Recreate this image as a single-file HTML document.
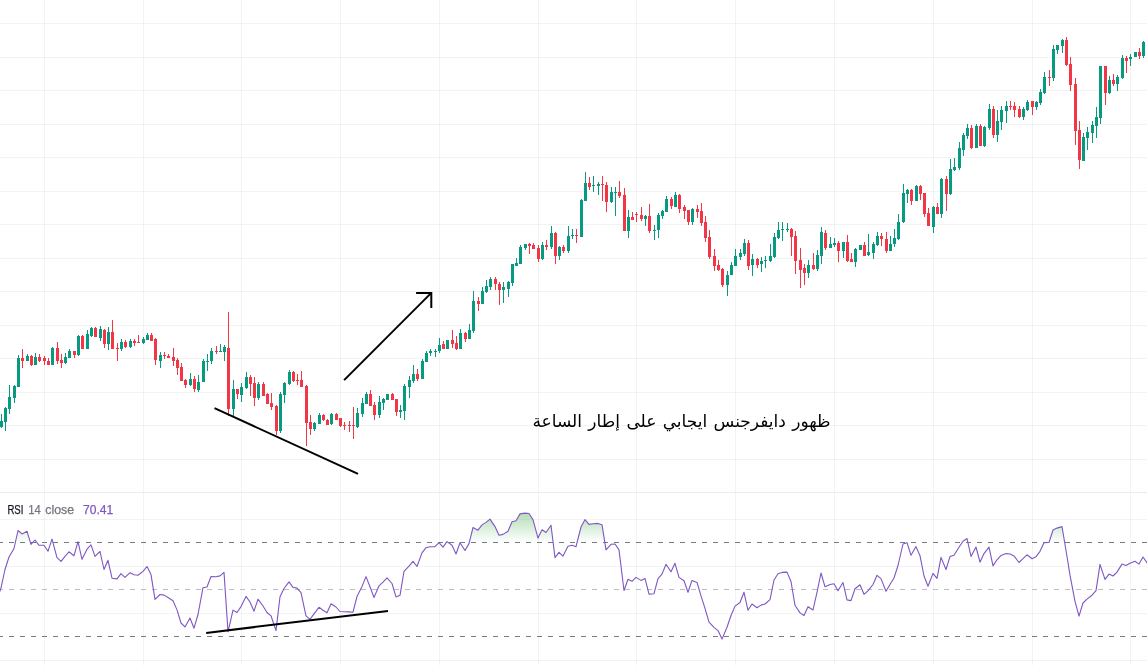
<!DOCTYPE html>
<html lang="en"><head><meta charset="utf-8"><title>RSI divergence chart</title>
<style>html,body{margin:0;padding:0;background:#fff;overflow:hidden}body{width:1147px;height:665px;font-family:"Liberation Sans","DejaVu Sans",sans-serif}svg{display:block}</style></head><body>
<svg width="1147" height="665" viewBox="0 0 1147 665">
<defs><linearGradient id="ob" gradientUnits="userSpaceOnUse" x1="0" y1="472.2" x2="0" y2="542.5"><stop offset="0" stop-color="#4CAF50" stop-opacity="1"/><stop offset="1" stop-color="#4CAF50" stop-opacity="0"/></linearGradient>
<linearGradient id="os" gradientUnits="userSpaceOnUse" x1="0" y1="636.3" x2="0" y2="706.5"><stop offset="0" stop-color="#F23645" stop-opacity="0"/><stop offset="1" stop-color="#F23645" stop-opacity="1"/></linearGradient>
<clipPath id="cob"><rect x="0" y="493" width="1147" height="49.5"/></clipPath><clipPath id="cos"><rect x="0" y="636.3" width="1147" height="29"/></clipPath><filter id="idf" x="0" y="0" width="1" height="1" filterUnits="objectBoundingBox" color-interpolation-filters="sRGB"><feOffset dx="0" dy="0"/></filter><filter id="idf2" x="-0.05" y="-0.5" width="1.1" height="2" color-interpolation-filters="sRGB"><feOffset dx="0" dy="0"/></filter></defs>
<rect width="1147" height="665" fill="#fff"/>
<g shape-rendering="crispEdges" fill="rgb(42,46,57)" fill-opacity="0.06">
<rect x="44" y="0" width="1" height="665"/>
<rect x="143" y="0" width="1" height="665"/>
<rect x="241" y="0" width="1" height="665"/>
<rect x="340" y="0" width="1" height="665"/>
<rect x="439" y="0" width="1" height="665"/>
<rect x="538" y="0" width="1" height="665"/>
<rect x="636" y="0" width="1" height="665"/>
<rect x="735" y="0" width="1" height="665"/>
<rect x="834" y="0" width="1" height="665"/>
<rect x="933" y="0" width="1" height="665"/>
<rect x="1032" y="0" width="1" height="665"/>
<rect x="1130" y="0" width="1" height="665"/>
<rect x="0" y="23" width="1147" height="1"/>
<rect x="0" y="57" width="1147" height="1"/>
<rect x="0" y="90" width="1147" height="1"/>
<rect x="0" y="124" width="1147" height="1"/>
<rect x="0" y="157" width="1147" height="1"/>
<rect x="0" y="191" width="1147" height="1"/>
<rect x="0" y="224" width="1147" height="1"/>
<rect x="0" y="258" width="1147" height="1"/>
<rect x="0" y="291" width="1147" height="1"/>
<rect x="0" y="325" width="1147" height="1"/>
<rect x="0" y="358" width="1147" height="1"/>
<rect x="0" y="392" width="1147" height="1"/>
<rect x="0" y="425" width="1147" height="1"/>
<rect x="0" y="459" width="1147" height="1"/>
<rect x="0" y="519" width="1147" height="1"/>
<rect x="0" y="566" width="1147" height="1"/>
<rect x="0" y="613" width="1147" height="1"/>
<rect x="0" y="660" width="1147" height="1"/>
</g>
<rect x="0" y="492" width="1147" height="1" fill="#ebebec" shape-rendering="crispEdges"/>
<g shape-rendering="crispEdges" fill="#089981">
<rect x="1" y="414" width="1" height="14"/>
<rect x="0" y="421" width="3" height="6"/>
<rect x="5" y="407" width="1" height="24"/>
<rect x="4" y="408" width="3" height="14"/>
<rect x="9" y="385" width="1" height="29"/>
<rect x="8" y="397" width="3" height="12"/>
<rect x="14" y="385" width="1" height="18"/>
<rect x="13" y="386" width="3" height="12"/>
<rect x="18" y="355" width="1" height="32"/>
<rect x="17" y="358" width="3" height="29"/>
<rect x="27" y="354" width="1" height="7"/>
<rect x="26" y="356" width="3" height="5"/>
<rect x="35" y="353" width="1" height="12"/>
<rect x="34" y="357" width="3" height="8"/>
<rect x="52" y="347" width="1" height="18"/>
<rect x="51" y="348" width="3" height="17"/>
<rect x="65" y="353" width="1" height="11"/>
<rect x="64" y="357" width="3" height="6"/>
<rect x="69" y="349" width="1" height="9"/>
<rect x="68" y="351" width="3" height="7"/>
<rect x="78" y="335" width="1" height="21"/>
<rect x="77" y="336" width="3" height="19"/>
<rect x="87" y="330" width="1" height="19"/>
<rect x="86" y="334" width="3" height="15"/>
<rect x="91" y="327" width="1" height="10"/>
<rect x="90" y="328" width="3" height="8"/>
<rect x="100" y="326" width="1" height="15"/>
<rect x="99" y="329" width="3" height="9"/>
<rect x="108" y="327" width="1" height="23"/>
<rect x="107" y="332" width="3" height="12"/>
<rect x="121" y="339" width="1" height="12"/>
<rect x="120" y="342" width="3" height="7"/>
<rect x="130" y="339" width="1" height="9"/>
<rect x="129" y="341" width="3" height="6"/>
<rect x="143" y="337" width="1" height="7"/>
<rect x="142" y="339" width="3" height="4"/>
<rect x="147" y="333" width="1" height="7"/>
<rect x="146" y="335" width="3" height="5"/>
<rect x="160" y="352" width="1" height="16"/>
<rect x="159" y="355" width="3" height="6"/>
<rect x="190" y="373" width="1" height="13"/>
<rect x="189" y="379" width="3" height="6"/>
<rect x="198" y="375" width="1" height="17"/>
<rect x="197" y="382" width="3" height="8"/>
<rect x="203" y="359" width="1" height="23"/>
<rect x="202" y="361" width="3" height="21"/>
<rect x="207" y="354" width="1" height="17"/>
<rect x="206" y="361" width="3" height="1"/>
<rect x="211" y="348" width="1" height="16"/>
<rect x="210" y="351" width="3" height="10"/>
<rect x="220" y="344" width="1" height="8"/>
<rect x="219" y="351" width="3" height="1"/>
<rect x="224" y="345" width="1" height="16"/>
<rect x="223" y="347" width="3" height="5"/>
<rect x="233" y="380" width="1" height="36"/>
<rect x="232" y="389" width="3" height="20"/>
<rect x="241" y="383" width="1" height="19"/>
<rect x="240" y="387" width="3" height="8"/>
<rect x="246" y="372" width="1" height="17"/>
<rect x="245" y="377" width="3" height="11"/>
<rect x="258" y="382" width="1" height="18"/>
<rect x="257" y="384" width="3" height="14"/>
<rect x="280" y="392" width="1" height="41"/>
<rect x="279" y="394" width="3" height="37"/>
<rect x="284" y="382" width="1" height="21"/>
<rect x="283" y="383" width="3" height="12"/>
<rect x="289" y="370" width="1" height="15"/>
<rect x="288" y="372" width="3" height="12"/>
<rect x="314" y="422" width="1" height="9"/>
<rect x="313" y="423" width="3" height="6"/>
<rect x="319" y="413" width="1" height="11"/>
<rect x="318" y="415" width="3" height="9"/>
<rect x="331" y="413" width="1" height="12"/>
<rect x="330" y="414" width="3" height="10"/>
<rect x="357" y="408" width="1" height="20"/>
<rect x="356" y="413" width="3" height="14"/>
<rect x="362" y="398" width="1" height="19"/>
<rect x="361" y="403" width="3" height="11"/>
<rect x="366" y="392" width="1" height="12"/>
<rect x="365" y="394" width="3" height="10"/>
<rect x="379" y="396" width="1" height="22"/>
<rect x="378" y="402" width="3" height="13"/>
<rect x="383" y="398" width="1" height="12"/>
<rect x="382" y="399" width="3" height="4"/>
<rect x="386" y="394" width="3" height="6"/>
<rect x="400" y="405" width="1" height="13"/>
<rect x="399" y="410" width="3" height="2"/>
<rect x="404" y="384" width="1" height="36"/>
<rect x="403" y="386" width="3" height="25"/>
<rect x="409" y="376" width="1" height="22"/>
<rect x="408" y="380" width="3" height="7"/>
<rect x="413" y="365" width="1" height="18"/>
<rect x="412" y="374" width="3" height="7"/>
<rect x="422" y="359" width="1" height="20"/>
<rect x="421" y="361" width="3" height="18"/>
<rect x="426" y="351" width="1" height="11"/>
<rect x="425" y="353" width="3" height="9"/>
<rect x="430" y="349" width="1" height="7"/>
<rect x="429" y="351" width="3" height="2"/>
<rect x="435" y="349" width="1" height="8"/>
<rect x="434" y="351" width="3" height="1"/>
<rect x="439" y="338" width="1" height="15"/>
<rect x="438" y="345" width="3" height="6"/>
<rect x="446" y="340" width="3" height="9"/>
<rect x="460" y="329" width="1" height="20"/>
<rect x="459" y="333" width="3" height="16"/>
<rect x="469" y="324" width="1" height="15"/>
<rect x="468" y="330" width="3" height="9"/>
<rect x="473" y="291" width="1" height="42"/>
<rect x="472" y="301" width="3" height="30"/>
<rect x="482" y="287" width="1" height="17"/>
<rect x="481" y="291" width="3" height="13"/>
<rect x="486" y="280" width="1" height="13"/>
<rect x="485" y="286" width="3" height="6"/>
<rect x="490" y="277" width="1" height="13"/>
<rect x="489" y="279" width="3" height="8"/>
<rect x="503" y="282" width="1" height="21"/>
<rect x="502" y="287" width="3" height="3"/>
<rect x="508" y="281" width="1" height="16"/>
<rect x="507" y="282" width="3" height="7"/>
<rect x="512" y="264" width="1" height="22"/>
<rect x="511" y="264" width="3" height="19"/>
<rect x="516" y="258" width="1" height="8"/>
<rect x="515" y="263" width="3" height="3"/>
<rect x="520" y="245" width="1" height="19"/>
<rect x="519" y="247" width="3" height="17"/>
<rect x="525" y="244" width="1" height="6"/>
<rect x="524" y="244" width="3" height="4"/>
<rect x="542" y="242" width="1" height="18"/>
<rect x="541" y="245" width="3" height="14"/>
<rect x="551" y="226" width="1" height="23"/>
<rect x="550" y="233" width="3" height="14"/>
<rect x="559" y="246" width="1" height="14"/>
<rect x="558" y="247" width="3" height="9"/>
<rect x="568" y="226" width="1" height="27"/>
<rect x="567" y="236" width="3" height="15"/>
<rect x="572" y="229" width="1" height="10"/>
<rect x="571" y="235" width="3" height="1"/>
<rect x="581" y="199" width="1" height="38"/>
<rect x="580" y="200" width="3" height="37"/>
<rect x="585" y="172" width="1" height="29"/>
<rect x="584" y="183" width="3" height="18"/>
<rect x="593" y="176" width="1" height="16"/>
<rect x="592" y="185" width="3" height="1"/>
<rect x="598" y="182" width="1" height="13"/>
<rect x="597" y="184" width="3" height="2"/>
<rect x="611" y="187" width="1" height="16"/>
<rect x="610" y="192" width="3" height="10"/>
<rect x="615" y="187" width="1" height="29"/>
<rect x="614" y="192" width="3" height="1"/>
<rect x="628" y="210" width="1" height="28"/>
<rect x="627" y="217" width="3" height="14"/>
<rect x="645" y="215" width="1" height="11"/>
<rect x="644" y="216" width="3" height="3"/>
<rect x="654" y="225" width="1" height="15"/>
<rect x="653" y="230" width="3" height="1"/>
<rect x="658" y="213" width="1" height="25"/>
<rect x="657" y="215" width="3" height="15"/>
<rect x="662" y="210" width="1" height="9"/>
<rect x="661" y="211" width="3" height="5"/>
<rect x="666" y="196" width="1" height="16"/>
<rect x="665" y="199" width="3" height="13"/>
<rect x="675" y="192" width="1" height="15"/>
<rect x="674" y="195" width="3" height="12"/>
<rect x="692" y="208" width="1" height="17"/>
<rect x="691" y="209" width="3" height="13"/>
<rect x="727" y="271" width="1" height="25"/>
<rect x="726" y="275" width="3" height="10"/>
<rect x="731" y="262" width="1" height="13"/>
<rect x="730" y="265" width="3" height="10"/>
<rect x="735" y="249" width="1" height="17"/>
<rect x="734" y="256" width="3" height="10"/>
<rect x="740" y="249" width="1" height="11"/>
<rect x="739" y="253" width="3" height="4"/>
<rect x="744" y="239" width="1" height="17"/>
<rect x="743" y="243" width="3" height="11"/>
<rect x="752" y="254" width="1" height="22"/>
<rect x="751" y="259" width="3" height="6"/>
<rect x="761" y="257" width="1" height="15"/>
<rect x="760" y="261" width="3" height="3"/>
<rect x="765" y="256" width="1" height="12"/>
<rect x="764" y="260" width="3" height="1"/>
<rect x="770" y="244" width="1" height="18"/>
<rect x="769" y="256" width="3" height="5"/>
<rect x="774" y="233" width="1" height="25"/>
<rect x="773" y="237" width="3" height="20"/>
<rect x="778" y="222" width="1" height="17"/>
<rect x="777" y="230" width="3" height="8"/>
<rect x="782" y="222" width="1" height="19"/>
<rect x="781" y="229" width="3" height="1"/>
<rect x="787" y="223" width="1" height="9"/>
<rect x="786" y="229" width="3" height="1"/>
<rect x="808" y="260" width="1" height="18"/>
<rect x="807" y="265" width="3" height="8"/>
<rect x="817" y="250" width="1" height="21"/>
<rect x="816" y="255" width="3" height="14"/>
<rect x="821" y="227" width="1" height="37"/>
<rect x="820" y="232" width="3" height="24"/>
<rect x="830" y="237" width="1" height="11"/>
<rect x="829" y="244" width="3" height="4"/>
<rect x="834" y="238" width="1" height="9"/>
<rect x="833" y="243" width="3" height="2"/>
<rect x="843" y="242" width="1" height="16"/>
<rect x="842" y="242" width="3" height="9"/>
<rect x="855" y="248" width="1" height="19"/>
<rect x="854" y="249" width="3" height="13"/>
<rect x="859" y="245" width="3" height="5"/>
<rect x="868" y="234" width="1" height="22"/>
<rect x="867" y="252" width="3" height="3"/>
<rect x="873" y="242" width="1" height="17"/>
<rect x="872" y="244" width="3" height="9"/>
<rect x="877" y="232" width="1" height="14"/>
<rect x="876" y="236" width="3" height="9"/>
<rect x="890" y="236" width="1" height="15"/>
<rect x="889" y="244" width="3" height="7"/>
<rect x="894" y="229" width="1" height="18"/>
<rect x="893" y="238" width="3" height="6"/>
<rect x="898" y="214" width="1" height="26"/>
<rect x="897" y="222" width="3" height="17"/>
<rect x="903" y="184" width="1" height="39"/>
<rect x="902" y="193" width="3" height="29"/>
<rect x="907" y="189" width="1" height="14"/>
<rect x="906" y="190" width="3" height="4"/>
<rect x="916" y="185" width="1" height="16"/>
<rect x="915" y="186" width="3" height="15"/>
<rect x="933" y="206" width="1" height="27"/>
<rect x="932" y="207" width="3" height="20"/>
<rect x="941" y="178" width="1" height="40"/>
<rect x="940" y="179" width="3" height="35"/>
<rect x="950" y="159" width="1" height="36"/>
<rect x="949" y="169" width="3" height="25"/>
<rect x="954" y="158" width="1" height="13"/>
<rect x="953" y="167" width="3" height="3"/>
<rect x="959" y="142" width="1" height="28"/>
<rect x="958" y="148" width="3" height="20"/>
<rect x="963" y="133" width="1" height="23"/>
<rect x="962" y="135" width="3" height="15"/>
<rect x="967" y="124" width="1" height="15"/>
<rect x="966" y="128" width="3" height="8"/>
<rect x="976" y="124" width="1" height="24"/>
<rect x="975" y="126" width="3" height="22"/>
<rect x="984" y="126" width="1" height="21"/>
<rect x="983" y="127" width="3" height="19"/>
<rect x="989" y="104" width="1" height="26"/>
<rect x="988" y="109" width="3" height="19"/>
<rect x="997" y="110" width="1" height="32"/>
<rect x="996" y="121" width="3" height="14"/>
<rect x="1001" y="106" width="1" height="24"/>
<rect x="1000" y="110" width="3" height="12"/>
<rect x="1006" y="101" width="1" height="22"/>
<rect x="1005" y="106" width="3" height="5"/>
<rect x="1023" y="107" width="1" height="13"/>
<rect x="1022" y="109" width="3" height="8"/>
<rect x="1027" y="100" width="1" height="11"/>
<rect x="1026" y="102" width="3" height="8"/>
<rect x="1036" y="101" width="1" height="9"/>
<rect x="1035" y="102" width="3" height="5"/>
<rect x="1040" y="89" width="1" height="16"/>
<rect x="1039" y="92" width="3" height="11"/>
<rect x="1044" y="72" width="1" height="22"/>
<rect x="1043" y="77" width="3" height="16"/>
<rect x="1053" y="45" width="1" height="36"/>
<rect x="1052" y="49" width="3" height="29"/>
<rect x="1057" y="45" width="1" height="9"/>
<rect x="1056" y="45" width="3" height="5"/>
<rect x="1062" y="39" width="1" height="14"/>
<rect x="1061" y="40" width="3" height="6"/>
<rect x="1083" y="133" width="1" height="28"/>
<rect x="1082" y="137" width="3" height="24"/>
<rect x="1087" y="127" width="1" height="23"/>
<rect x="1086" y="132" width="3" height="6"/>
<rect x="1092" y="121" width="1" height="22"/>
<rect x="1091" y="125" width="3" height="8"/>
<rect x="1096" y="107" width="1" height="31"/>
<rect x="1095" y="117" width="3" height="9"/>
<rect x="1100" y="66" width="1" height="58"/>
<rect x="1099" y="66" width="3" height="52"/>
<rect x="1109" y="76" width="1" height="18"/>
<rect x="1108" y="80" width="3" height="13"/>
<rect x="1117" y="75" width="1" height="16"/>
<rect x="1116" y="77" width="3" height="7"/>
<rect x="1122" y="55" width="1" height="24"/>
<rect x="1121" y="58" width="3" height="20"/>
<rect x="1130" y="54" width="1" height="12"/>
<rect x="1129" y="57" width="3" height="2"/>
<rect x="1134" y="52" width="3" height="5"/>
<rect x="1143" y="41" width="1" height="17"/>
<rect x="1142" y="42" width="3" height="14"/>
</g>
<g shape-rendering="crispEdges" fill="#F23645">
<rect x="22" y="349" width="1" height="19"/>
<rect x="21" y="358" width="3" height="3"/>
<rect x="31" y="355" width="1" height="11"/>
<rect x="30" y="356" width="3" height="9"/>
<rect x="39" y="354" width="1" height="8"/>
<rect x="38" y="357" width="3" height="4"/>
<rect x="44" y="356" width="1" height="9"/>
<rect x="43" y="358" width="3" height="3"/>
<rect x="48" y="358" width="1" height="7"/>
<rect x="47" y="361" width="3" height="4"/>
<rect x="57" y="342" width="1" height="22"/>
<rect x="56" y="348" width="3" height="13"/>
<rect x="61" y="354" width="1" height="14"/>
<rect x="60" y="360" width="3" height="3"/>
<rect x="74" y="351" width="1" height="7"/>
<rect x="73" y="351" width="3" height="4"/>
<rect x="82" y="335" width="1" height="14"/>
<rect x="81" y="336" width="3" height="13"/>
<rect x="95" y="327" width="1" height="10"/>
<rect x="94" y="328" width="3" height="9"/>
<rect x="104" y="329" width="1" height="19"/>
<rect x="103" y="330" width="3" height="14"/>
<rect x="112" y="320" width="1" height="29"/>
<rect x="111" y="332" width="3" height="17"/>
<rect x="117" y="343" width="1" height="18"/>
<rect x="116" y="348" width="3" height="1"/>
<rect x="125" y="340" width="1" height="8"/>
<rect x="124" y="342" width="3" height="5"/>
<rect x="134" y="339" width="1" height="7"/>
<rect x="133" y="341" width="3" height="2"/>
<rect x="138" y="335" width="1" height="8"/>
<rect x="137" y="342" width="3" height="1"/>
<rect x="151" y="333" width="1" height="8"/>
<rect x="150" y="335" width="3" height="6"/>
<rect x="155" y="338" width="1" height="27"/>
<rect x="154" y="339" width="3" height="21"/>
<rect x="164" y="352" width="1" height="7"/>
<rect x="163" y="355" width="3" height="1"/>
<rect x="168" y="354" width="1" height="4"/>
<rect x="167" y="356" width="3" height="2"/>
<rect x="173" y="348" width="1" height="18"/>
<rect x="172" y="357" width="3" height="4"/>
<rect x="177" y="358" width="1" height="17"/>
<rect x="176" y="360" width="3" height="8"/>
<rect x="181" y="363" width="1" height="18"/>
<rect x="180" y="367" width="3" height="14"/>
<rect x="185" y="379" width="1" height="9"/>
<rect x="184" y="380" width="3" height="5"/>
<rect x="194" y="376" width="1" height="16"/>
<rect x="193" y="379" width="3" height="10"/>
<rect x="216" y="346" width="1" height="8"/>
<rect x="215" y="351" width="3" height="1"/>
<rect x="228" y="312" width="1" height="104"/>
<rect x="227" y="348" width="3" height="61"/>
<rect x="237" y="389" width="1" height="10"/>
<rect x="236" y="389" width="3" height="5"/>
<rect x="250" y="375" width="1" height="21"/>
<rect x="249" y="377" width="3" height="7"/>
<rect x="254" y="377" width="1" height="29"/>
<rect x="253" y="383" width="3" height="15"/>
<rect x="263" y="382" width="1" height="14"/>
<rect x="262" y="384" width="3" height="12"/>
<rect x="267" y="393" width="1" height="11"/>
<rect x="266" y="394" width="3" height="10"/>
<rect x="271" y="393" width="1" height="17"/>
<rect x="270" y="403" width="3" height="4"/>
<rect x="276" y="405" width="1" height="30"/>
<rect x="275" y="406" width="3" height="25"/>
<rect x="293" y="371" width="1" height="11"/>
<rect x="292" y="372" width="3" height="9"/>
<rect x="297" y="374" width="1" height="11"/>
<rect x="296" y="380" width="3" height="1"/>
<rect x="301" y="371" width="1" height="16"/>
<rect x="300" y="380" width="3" height="7"/>
<rect x="306" y="385" width="1" height="61"/>
<rect x="305" y="386" width="3" height="37"/>
<rect x="310" y="415" width="1" height="20"/>
<rect x="309" y="422" width="3" height="7"/>
<rect x="323" y="414" width="1" height="7"/>
<rect x="322" y="415" width="3" height="5"/>
<rect x="327" y="419" width="1" height="6"/>
<rect x="326" y="420" width="3" height="5"/>
<rect x="336" y="413" width="1" height="7"/>
<rect x="335" y="414" width="3" height="6"/>
<rect x="340" y="418" width="1" height="9"/>
<rect x="339" y="418" width="3" height="8"/>
<rect x="344" y="422" width="1" height="8"/>
<rect x="343" y="425" width="3" height="1"/>
<rect x="349" y="421" width="1" height="11"/>
<rect x="348" y="425" width="3" height="1"/>
<rect x="353" y="407" width="1" height="32"/>
<rect x="352" y="425" width="3" height="1"/>
<rect x="370" y="390" width="1" height="16"/>
<rect x="369" y="394" width="3" height="12"/>
<rect x="374" y="402" width="1" height="18"/>
<rect x="373" y="405" width="3" height="10"/>
<rect x="392" y="393" width="1" height="7"/>
<rect x="391" y="394" width="3" height="6"/>
<rect x="396" y="399" width="1" height="17"/>
<rect x="395" y="399" width="3" height="13"/>
<rect x="417" y="369" width="1" height="12"/>
<rect x="416" y="374" width="3" height="5"/>
<rect x="443" y="341" width="1" height="8"/>
<rect x="442" y="344" width="3" height="5"/>
<rect x="452" y="330" width="1" height="18"/>
<rect x="451" y="340" width="3" height="4"/>
<rect x="456" y="336" width="1" height="14"/>
<rect x="455" y="343" width="3" height="6"/>
<rect x="465" y="332" width="1" height="10"/>
<rect x="464" y="333" width="3" height="6"/>
<rect x="478" y="297" width="1" height="14"/>
<rect x="477" y="301" width="3" height="3"/>
<rect x="495" y="277" width="1" height="13"/>
<rect x="494" y="279" width="3" height="5"/>
<rect x="499" y="282" width="1" height="23"/>
<rect x="498" y="284" width="3" height="6"/>
<rect x="529" y="243" width="1" height="11"/>
<rect x="528" y="244" width="3" height="2"/>
<rect x="533" y="243" width="1" height="6"/>
<rect x="532" y="245" width="3" height="4"/>
<rect x="538" y="245" width="1" height="17"/>
<rect x="537" y="248" width="3" height="11"/>
<rect x="546" y="240" width="1" height="10"/>
<rect x="545" y="245" width="3" height="2"/>
<rect x="555" y="232" width="1" height="32"/>
<rect x="554" y="233" width="3" height="23"/>
<rect x="563" y="245" width="1" height="8"/>
<rect x="562" y="247" width="3" height="4"/>
<rect x="576" y="229" width="1" height="14"/>
<rect x="575" y="235" width="3" height="1"/>
<rect x="589" y="177" width="1" height="13"/>
<rect x="588" y="183" width="3" height="4"/>
<rect x="602" y="176" width="1" height="25"/>
<rect x="601" y="184" width="3" height="1"/>
<rect x="606" y="182" width="1" height="30"/>
<rect x="605" y="185" width="3" height="17"/>
<rect x="619" y="181" width="1" height="17"/>
<rect x="618" y="192" width="3" height="4"/>
<rect x="624" y="188" width="1" height="43"/>
<rect x="623" y="195" width="3" height="36"/>
<rect x="632" y="212" width="1" height="8"/>
<rect x="631" y="217" width="3" height="3"/>
<rect x="636" y="212" width="1" height="10"/>
<rect x="635" y="214" width="3" height="1"/>
<rect x="641" y="207" width="1" height="14"/>
<rect x="640" y="215" width="3" height="4"/>
<rect x="649" y="204" width="1" height="29"/>
<rect x="648" y="216" width="3" height="15"/>
<rect x="671" y="197" width="1" height="12"/>
<rect x="670" y="199" width="3" height="7"/>
<rect x="679" y="194" width="1" height="19"/>
<rect x="678" y="195" width="3" height="14"/>
<rect x="684" y="205" width="1" height="14"/>
<rect x="683" y="207" width="3" height="4"/>
<rect x="688" y="210" width="1" height="15"/>
<rect x="687" y="210" width="3" height="12"/>
<rect x="697" y="205" width="1" height="13"/>
<rect x="696" y="209" width="3" height="3"/>
<rect x="701" y="203" width="1" height="23"/>
<rect x="700" y="211" width="3" height="12"/>
<rect x="705" y="216" width="1" height="26"/>
<rect x="704" y="222" width="3" height="16"/>
<rect x="709" y="230" width="1" height="29"/>
<rect x="708" y="237" width="3" height="20"/>
<rect x="714" y="249" width="1" height="22"/>
<rect x="713" y="256" width="3" height="10"/>
<rect x="718" y="260" width="1" height="11"/>
<rect x="717" y="265" width="3" height="5"/>
<rect x="722" y="268" width="1" height="19"/>
<rect x="721" y="269" width="3" height="16"/>
<rect x="748" y="240" width="1" height="30"/>
<rect x="747" y="243" width="3" height="23"/>
<rect x="757" y="258" width="1" height="10"/>
<rect x="756" y="259" width="3" height="6"/>
<rect x="791" y="228" width="1" height="28"/>
<rect x="790" y="229" width="3" height="8"/>
<rect x="795" y="231" width="1" height="43"/>
<rect x="794" y="236" width="3" height="25"/>
<rect x="800" y="248" width="1" height="40"/>
<rect x="799" y="260" width="3" height="10"/>
<rect x="804" y="264" width="1" height="21"/>
<rect x="803" y="268" width="3" height="5"/>
<rect x="813" y="253" width="1" height="17"/>
<rect x="812" y="265" width="3" height="4"/>
<rect x="825" y="230" width="1" height="20"/>
<rect x="824" y="233" width="3" height="15"/>
<rect x="838" y="241" width="1" height="21"/>
<rect x="837" y="243" width="3" height="8"/>
<rect x="847" y="235" width="1" height="27"/>
<rect x="846" y="242" width="3" height="19"/>
<rect x="851" y="253" width="1" height="9"/>
<rect x="850" y="259" width="3" height="3"/>
<rect x="864" y="242" width="1" height="14"/>
<rect x="863" y="245" width="3" height="11"/>
<rect x="881" y="233" width="1" height="13"/>
<rect x="880" y="236" width="3" height="3"/>
<rect x="886" y="232" width="1" height="21"/>
<rect x="885" y="239" width="3" height="12"/>
<rect x="911" y="189" width="1" height="16"/>
<rect x="910" y="190" width="3" height="11"/>
<rect x="920" y="185" width="1" height="15"/>
<rect x="919" y="186" width="3" height="8"/>
<rect x="924" y="193" width="1" height="24"/>
<rect x="923" y="193" width="3" height="21"/>
<rect x="928" y="208" width="1" height="18"/>
<rect x="927" y="213" width="3" height="13"/>
<rect x="937" y="203" width="1" height="11"/>
<rect x="936" y="207" width="3" height="7"/>
<rect x="946" y="176" width="1" height="35"/>
<rect x="945" y="179" width="3" height="15"/>
<rect x="971" y="125" width="1" height="24"/>
<rect x="970" y="128" width="3" height="20"/>
<rect x="980" y="124" width="1" height="22"/>
<rect x="979" y="126" width="3" height="20"/>
<rect x="993" y="106" width="1" height="32"/>
<rect x="992" y="109" width="3" height="26"/>
<rect x="1010" y="101" width="1" height="9"/>
<rect x="1009" y="106" width="3" height="1"/>
<rect x="1014" y="102" width="1" height="15"/>
<rect x="1013" y="106" width="3" height="4"/>
<rect x="1019" y="106" width="1" height="12"/>
<rect x="1018" y="109" width="3" height="8"/>
<rect x="1032" y="101" width="1" height="14"/>
<rect x="1031" y="101" width="3" height="6"/>
<rect x="1049" y="70" width="1" height="16"/>
<rect x="1048" y="77" width="3" height="1"/>
<rect x="1066" y="37" width="1" height="29"/>
<rect x="1065" y="40" width="3" height="25"/>
<rect x="1070" y="57" width="1" height="34"/>
<rect x="1069" y="64" width="3" height="21"/>
<rect x="1075" y="78" width="1" height="67"/>
<rect x="1074" y="84" width="3" height="47"/>
<rect x="1079" y="121" width="1" height="48"/>
<rect x="1078" y="130" width="3" height="30"/>
<rect x="1105" y="66" width="1" height="39"/>
<rect x="1104" y="66" width="3" height="27"/>
<rect x="1113" y="74" width="1" height="12"/>
<rect x="1112" y="80" width="3" height="4"/>
<rect x="1126" y="56" width="1" height="17"/>
<rect x="1125" y="58" width="3" height="3"/>
<rect x="1139" y="48" width="1" height="11"/>
<rect x="1138" y="52" width="3" height="4"/>
</g>
<polygon clip-path="url(#cob)" fill="url(#ob)" points="-5,542.5 -3.0,599.8 1.0,587.8 5.0,569.5 9.0,557.0 14.0,548.5 18.0,530.5 22.0,533.9 27.0,531.3 31.0,544.4 35.0,540.0 39.0,545.3 44.0,545.3 48.0,551.2 52.0,539.1 57.0,557.7 61.0,561.4 65.0,556.4 69.0,551.8 74.0,555.7 78.0,541.7 82.0,559.3 87.0,549.2 91.0,544.9 95.0,556.4 100.0,551.5 104.0,569.5 108.0,560.3 112.0,578.2 117.0,578.9 121.0,573.6 125.0,577.3 130.0,572.7 134.0,574.7 138.0,575.3 143.0,571.4 147.0,566.5 151.0,574.6 155.0,599.4 160.0,594.5 164.0,595.1 168.0,597.5 173.0,600.7 177.0,609.9 181.0,623.0 185.0,626.9 190.0,618.0 194.0,628.2 198.0,614.5 203.0,587.7 207.0,587.0 211.0,576.5 216.0,576.8 220.0,575.9 224.0,572.4 228.0,631.8 233.0,610.1 237.0,612.5 241.0,606.6 246.0,596.4 250.0,602.0 254.0,611.2 258.0,599.2 263.0,606.0 267.0,612.5 271.0,615.8 276.0,630.6 280.0,596.8 284.0,588.5 289.0,581.9 293.0,587.3 297.0,588.1 301.0,592.7 306.0,615.8 310.0,619.4 314.0,613.9 319.0,607.3 323.0,610.2 327.0,612.8 331.0,603.8 336.0,607.0 340.0,611.5 344.0,611.7 349.0,611.9 353.0,612.2 357.0,596.5 362.0,586.4 366.0,576.6 370.0,586.8 374.0,597.5 379.0,585.8 383.0,582.2 387.0,577.9 392.0,583.5 396.0,596.9 400.0,595.3 404.0,571.4 409.0,566.2 413.0,561.3 417.0,566.5 422.0,552.9 426.0,547.7 430.0,546.7 435.0,546.6 439.0,542.7 443.0,547.1 447.0,541.6 452.0,545.3 456.0,554.0 460.0,542.7 465.0,550.5 469.0,543.6 473.0,527.5 478.0,530.2 482.0,524.9 486.0,522.4 490.0,519.1 495.0,526.6 499.0,535.3 503.0,534.4 508.0,531.2 512.0,521.7 516.0,520.7 520.0,513.9 525.0,513.1 529.0,513.5 533.0,519.6 538.0,538.1 542.0,529.8 546.0,532.5 551.0,525.3 555.0,557.6 559.0,552.3 563.0,556.1 568.0,546.2 572.0,545.3 576.0,546.7 581.0,527.0 585.0,519.6 589.0,524.4 593.0,523.8 598.0,523.4 602.0,524.7 606.0,549.9 611.0,544.3 615.0,544.0 619.0,549.9 624.0,590.5 628.0,579.3 632.0,581.3 636.0,577.4 641.0,580.4 645.0,578.4 649.0,594.1 654.0,593.7 658.0,578.7 662.0,574.1 666.0,564.3 671.0,571.8 675.0,563.3 679.0,577.4 684.0,580.7 688.0,592.2 692.0,580.4 697.0,582.4 701.0,595.9 705.0,608.3 709.0,622.1 714.0,627.3 718.0,630.6 722.0,639.1 727.0,627.3 731.0,615.5 735.0,606.1 740.0,602.5 744.0,592.3 748.0,610.3 752.0,604.0 757.0,607.7 761.0,605.1 765.0,604.0 770.0,599.6 774.0,580.0 778.0,573.7 782.0,572.4 787.0,572.1 791.0,581.5 795.0,605.3 800.0,612.9 804.0,615.5 808.0,606.8 813.0,610.0 817.0,592.3 821.0,573.0 825.0,586.8 830.0,584.5 834.0,583.8 838.0,590.7 843.0,582.5 847.0,599.9 851.0,600.6 855.0,588.7 860.0,584.8 864.0,594.3 868.0,590.8 873.0,584.5 877.0,575.3 881.0,578.6 886.0,591.3 890.0,584.5 894.0,578.0 898.0,565.5 903.0,544.0 907.0,542.7 911.0,555.3 916.0,546.6 920.0,555.7 924.0,576.0 928.0,586.2 933.0,573.4 937.0,578.4 941.0,557.4 946.0,569.5 950.0,556.6 954.0,555.3 959.0,547.2 963.0,541.3 967.0,538.5 971.0,556.4 976.0,547.0 980.0,562.2 984.0,553.6 989.0,547.1 993.0,565.9 997.0,559.8 1001.0,555.4 1006.0,553.6 1010.0,554.0 1014.0,555.9 1019.0,562.5 1023.0,558.7 1027.0,554.8 1032.0,558.7 1036.0,556.7 1040.0,551.3 1044.0,542.8 1049.0,542.5 1053.0,530.0 1057.0,528.1 1062.0,526.6 1066.0,550.5 1070.0,575.2 1075.0,601.4 1079.0,616.1 1083.0,603.0 1087.0,599.1 1092.0,595.2 1096.0,590.6 1100.0,564.4 1105.0,579.4 1109.0,574.1 1113.0,576.0 1117.0,572.1 1122.0,564.1 1126.0,565.5 1130.0,563.3 1135.0,561.3 1139.0,564.1 1143.0,557.0 1148.0,564.1 1152,542.5"/>
<polygon clip-path="url(#cos)" fill="url(#os)" points="-5,636.3 -3.0,599.8 1.0,587.8 5.0,569.5 9.0,557.0 14.0,548.5 18.0,530.5 22.0,533.9 27.0,531.3 31.0,544.4 35.0,540.0 39.0,545.3 44.0,545.3 48.0,551.2 52.0,539.1 57.0,557.7 61.0,561.4 65.0,556.4 69.0,551.8 74.0,555.7 78.0,541.7 82.0,559.3 87.0,549.2 91.0,544.9 95.0,556.4 100.0,551.5 104.0,569.5 108.0,560.3 112.0,578.2 117.0,578.9 121.0,573.6 125.0,577.3 130.0,572.7 134.0,574.7 138.0,575.3 143.0,571.4 147.0,566.5 151.0,574.6 155.0,599.4 160.0,594.5 164.0,595.1 168.0,597.5 173.0,600.7 177.0,609.9 181.0,623.0 185.0,626.9 190.0,618.0 194.0,628.2 198.0,614.5 203.0,587.7 207.0,587.0 211.0,576.5 216.0,576.8 220.0,575.9 224.0,572.4 228.0,631.8 233.0,610.1 237.0,612.5 241.0,606.6 246.0,596.4 250.0,602.0 254.0,611.2 258.0,599.2 263.0,606.0 267.0,612.5 271.0,615.8 276.0,630.6 280.0,596.8 284.0,588.5 289.0,581.9 293.0,587.3 297.0,588.1 301.0,592.7 306.0,615.8 310.0,619.4 314.0,613.9 319.0,607.3 323.0,610.2 327.0,612.8 331.0,603.8 336.0,607.0 340.0,611.5 344.0,611.7 349.0,611.9 353.0,612.2 357.0,596.5 362.0,586.4 366.0,576.6 370.0,586.8 374.0,597.5 379.0,585.8 383.0,582.2 387.0,577.9 392.0,583.5 396.0,596.9 400.0,595.3 404.0,571.4 409.0,566.2 413.0,561.3 417.0,566.5 422.0,552.9 426.0,547.7 430.0,546.7 435.0,546.6 439.0,542.7 443.0,547.1 447.0,541.6 452.0,545.3 456.0,554.0 460.0,542.7 465.0,550.5 469.0,543.6 473.0,527.5 478.0,530.2 482.0,524.9 486.0,522.4 490.0,519.1 495.0,526.6 499.0,535.3 503.0,534.4 508.0,531.2 512.0,521.7 516.0,520.7 520.0,513.9 525.0,513.1 529.0,513.5 533.0,519.6 538.0,538.1 542.0,529.8 546.0,532.5 551.0,525.3 555.0,557.6 559.0,552.3 563.0,556.1 568.0,546.2 572.0,545.3 576.0,546.7 581.0,527.0 585.0,519.6 589.0,524.4 593.0,523.8 598.0,523.4 602.0,524.7 606.0,549.9 611.0,544.3 615.0,544.0 619.0,549.9 624.0,590.5 628.0,579.3 632.0,581.3 636.0,577.4 641.0,580.4 645.0,578.4 649.0,594.1 654.0,593.7 658.0,578.7 662.0,574.1 666.0,564.3 671.0,571.8 675.0,563.3 679.0,577.4 684.0,580.7 688.0,592.2 692.0,580.4 697.0,582.4 701.0,595.9 705.0,608.3 709.0,622.1 714.0,627.3 718.0,630.6 722.0,639.1 727.0,627.3 731.0,615.5 735.0,606.1 740.0,602.5 744.0,592.3 748.0,610.3 752.0,604.0 757.0,607.7 761.0,605.1 765.0,604.0 770.0,599.6 774.0,580.0 778.0,573.7 782.0,572.4 787.0,572.1 791.0,581.5 795.0,605.3 800.0,612.9 804.0,615.5 808.0,606.8 813.0,610.0 817.0,592.3 821.0,573.0 825.0,586.8 830.0,584.5 834.0,583.8 838.0,590.7 843.0,582.5 847.0,599.9 851.0,600.6 855.0,588.7 860.0,584.8 864.0,594.3 868.0,590.8 873.0,584.5 877.0,575.3 881.0,578.6 886.0,591.3 890.0,584.5 894.0,578.0 898.0,565.5 903.0,544.0 907.0,542.7 911.0,555.3 916.0,546.6 920.0,555.7 924.0,576.0 928.0,586.2 933.0,573.4 937.0,578.4 941.0,557.4 946.0,569.5 950.0,556.6 954.0,555.3 959.0,547.2 963.0,541.3 967.0,538.5 971.0,556.4 976.0,547.0 980.0,562.2 984.0,553.6 989.0,547.1 993.0,565.9 997.0,559.8 1001.0,555.4 1006.0,553.6 1010.0,554.0 1014.0,555.9 1019.0,562.5 1023.0,558.7 1027.0,554.8 1032.0,558.7 1036.0,556.7 1040.0,551.3 1044.0,542.8 1049.0,542.5 1053.0,530.0 1057.0,528.1 1062.0,526.6 1066.0,550.5 1070.0,575.2 1075.0,601.4 1079.0,616.1 1083.0,603.0 1087.0,599.1 1092.0,595.2 1096.0,590.6 1100.0,564.4 1105.0,579.4 1109.0,574.1 1113.0,576.0 1117.0,572.1 1122.0,564.1 1126.0,565.5 1130.0,563.3 1135.0,561.3 1139.0,564.1 1143.0,557.0 1148.0,564.1 1152,636.3"/>
<g fill="none" stroke-width="1" stroke-dasharray="5 6" stroke-dashoffset="2" shape-rendering="crispEdges">
<line x1="0" y1="542.5" x2="1147" y2="542.5" stroke="#787B86"/>
<line x1="0" y1="589.5" x2="1147" y2="589.5" stroke="#787B86" stroke-opacity="0.5"/>
<line x1="0" y1="636.5" x2="1147" y2="636.5" stroke="#787B86"/>
</g>
<polyline fill="none" stroke="#7E57C2" stroke-width="1.1" stroke-linejoin="round" points="-3.0,599.8 1.0,587.8 5.0,569.5 9.0,557.0 14.0,548.5 18.0,530.5 22.0,533.9 27.0,531.3 31.0,544.4 35.0,540.0 39.0,545.3 44.0,545.3 48.0,551.2 52.0,539.1 57.0,557.7 61.0,561.4 65.0,556.4 69.0,551.8 74.0,555.7 78.0,541.7 82.0,559.3 87.0,549.2 91.0,544.9 95.0,556.4 100.0,551.5 104.0,569.5 108.0,560.3 112.0,578.2 117.0,578.9 121.0,573.6 125.0,577.3 130.0,572.7 134.0,574.7 138.0,575.3 143.0,571.4 147.0,566.5 151.0,574.6 155.0,599.4 160.0,594.5 164.0,595.1 168.0,597.5 173.0,600.7 177.0,609.9 181.0,623.0 185.0,626.9 190.0,618.0 194.0,628.2 198.0,614.5 203.0,587.7 207.0,587.0 211.0,576.5 216.0,576.8 220.0,575.9 224.0,572.4 228.0,631.8 233.0,610.1 237.0,612.5 241.0,606.6 246.0,596.4 250.0,602.0 254.0,611.2 258.0,599.2 263.0,606.0 267.0,612.5 271.0,615.8 276.0,630.6 280.0,596.8 284.0,588.5 289.0,581.9 293.0,587.3 297.0,588.1 301.0,592.7 306.0,615.8 310.0,619.4 314.0,613.9 319.0,607.3 323.0,610.2 327.0,612.8 331.0,603.8 336.0,607.0 340.0,611.5 344.0,611.7 349.0,611.9 353.0,612.2 357.0,596.5 362.0,586.4 366.0,576.6 370.0,586.8 374.0,597.5 379.0,585.8 383.0,582.2 387.0,577.9 392.0,583.5 396.0,596.9 400.0,595.3 404.0,571.4 409.0,566.2 413.0,561.3 417.0,566.5 422.0,552.9 426.0,547.7 430.0,546.7 435.0,546.6 439.0,542.7 443.0,547.1 447.0,541.6 452.0,545.3 456.0,554.0 460.0,542.7 465.0,550.5 469.0,543.6 473.0,527.5 478.0,530.2 482.0,524.9 486.0,522.4 490.0,519.1 495.0,526.6 499.0,535.3 503.0,534.4 508.0,531.2 512.0,521.7 516.0,520.7 520.0,513.9 525.0,513.1 529.0,513.5 533.0,519.6 538.0,538.1 542.0,529.8 546.0,532.5 551.0,525.3 555.0,557.6 559.0,552.3 563.0,556.1 568.0,546.2 572.0,545.3 576.0,546.7 581.0,527.0 585.0,519.6 589.0,524.4 593.0,523.8 598.0,523.4 602.0,524.7 606.0,549.9 611.0,544.3 615.0,544.0 619.0,549.9 624.0,590.5 628.0,579.3 632.0,581.3 636.0,577.4 641.0,580.4 645.0,578.4 649.0,594.1 654.0,593.7 658.0,578.7 662.0,574.1 666.0,564.3 671.0,571.8 675.0,563.3 679.0,577.4 684.0,580.7 688.0,592.2 692.0,580.4 697.0,582.4 701.0,595.9 705.0,608.3 709.0,622.1 714.0,627.3 718.0,630.6 722.0,639.1 727.0,627.3 731.0,615.5 735.0,606.1 740.0,602.5 744.0,592.3 748.0,610.3 752.0,604.0 757.0,607.7 761.0,605.1 765.0,604.0 770.0,599.6 774.0,580.0 778.0,573.7 782.0,572.4 787.0,572.1 791.0,581.5 795.0,605.3 800.0,612.9 804.0,615.5 808.0,606.8 813.0,610.0 817.0,592.3 821.0,573.0 825.0,586.8 830.0,584.5 834.0,583.8 838.0,590.7 843.0,582.5 847.0,599.9 851.0,600.6 855.0,588.7 860.0,584.8 864.0,594.3 868.0,590.8 873.0,584.5 877.0,575.3 881.0,578.6 886.0,591.3 890.0,584.5 894.0,578.0 898.0,565.5 903.0,544.0 907.0,542.7 911.0,555.3 916.0,546.6 920.0,555.7 924.0,576.0 928.0,586.2 933.0,573.4 937.0,578.4 941.0,557.4 946.0,569.5 950.0,556.6 954.0,555.3 959.0,547.2 963.0,541.3 967.0,538.5 971.0,556.4 976.0,547.0 980.0,562.2 984.0,553.6 989.0,547.1 993.0,565.9 997.0,559.8 1001.0,555.4 1006.0,553.6 1010.0,554.0 1014.0,555.9 1019.0,562.5 1023.0,558.7 1027.0,554.8 1032.0,558.7 1036.0,556.7 1040.0,551.3 1044.0,542.8 1049.0,542.5 1053.0,530.0 1057.0,528.1 1062.0,526.6 1066.0,550.5 1070.0,575.2 1075.0,601.4 1079.0,616.1 1083.0,603.0 1087.0,599.1 1092.0,595.2 1096.0,590.6 1100.0,564.4 1105.0,579.4 1109.0,574.1 1113.0,576.0 1117.0,572.1 1122.0,564.1 1126.0,565.5 1130.0,563.3 1135.0,561.3 1139.0,564.1 1143.0,557.0 1148.0,564.1"/>
<g stroke="#000" stroke-width="2" fill="none">
<line x1="214.5" y1="408.1" x2="358.0" y2="473.95"/>
<line x1="206.2" y1="632.9" x2="388.0" y2="610.9"/>
<line x1="344.1" y1="380.1" x2="431.3" y2="292.9"/>
<polyline points="416.1,292.9 431.3,292.9 431.3,308.1" stroke-linejoin="miter"/>
</g>
<g font-family="'Liberation Sans',sans-serif" font-size="12px" stroke-width="0.25" filter="url(#idf2)">
<text x="7.4" y="513.6" fill="#131722" stroke="#131722" textLength="16" lengthAdjust="spacingAndGlyphs">RSI</text>
<text x="28.2" y="513.6" fill="#74767e" stroke="#74767e" textLength="12.6" lengthAdjust="spacingAndGlyphs">14</text>
<text x="45.2" y="513.6" fill="#74767e" stroke="#74767e" textLength="28.9" lengthAdjust="spacingAndGlyphs">close</text>
<text x="83.1" y="513.6" fill="#7E57C2" stroke="#7E57C2" textLength="30.2" lengthAdjust="spacingAndGlyphs">70.41</text>
</g>
<text x="830.6" y="427.3" direction="rtl" text-anchor="start" font-family="'DejaVu Sans',sans-serif" font-size="17px" word-spacing="0.96px" fill="#000" filter="url(#idf2)" lang="ar">ظهور دايفرجنس ايجابي على إطار الساعة</text>
</svg></body></html>
